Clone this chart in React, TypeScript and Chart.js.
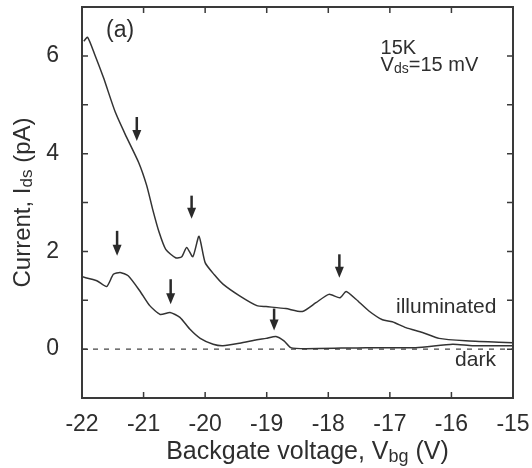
import React, { useEffect, useRef } from "react";
import { Chart, registerables } from "chart.js";

Chart.register(...registerables);

// Data (Backgate voltage V, current pA)
const illumX = [-21.97, -21.91, -21.80, -21.65, -21.46, -21.30, -21.08, -20.95, -20.85, -20.75, -20.64, -20.48, -20.38, -20.30, -20.20, -20.10, -20.00, -19.85, -19.71, -19.44, -19.16, -19.01, -18.69, -18.42, -18.20, -17.99, -17.81, -17.71, -17.55, -17.34, -17.12, -16.96, -16.74, -16.47, -16.20, -15.77, -15.23, -15.0];
const illumY = [6.30, 6.38, 6.05, 5.55, 4.85, 4.40, 3.82, 3.35, 2.85, 2.40, 2.04, 1.87, 1.89, 2.08, 1.89, 2.31, 1.77, 1.52, 1.33, 1.09, 0.89, 0.87, 0.83, 0.77, 0.95, 1.12, 1.05, 1.18, 1.02, 0.78, 0.60, 0.56, 0.44, 0.34, 0.22, 0.17, 0.14, 0.13];

const darkX = [-22.0, -21.76, -21.60, -21.49, -21.38, -21.25, -21.06, -20.90, -20.73, -20.57, -20.41, -20.25, -20.08, -19.87, -19.71, -19.44, -19.16, -19.01, -18.85, -18.72, -18.61, -18.36, -17.39, -16.58, -15.98, -15.66, -15.0];
const darkY = [1.48, 1.40, 1.28, 1.53, 1.57, 1.50, 1.19, 0.89, 0.71, 0.75, 0.65, 0.41, 0.22, 0.10, 0.07, 0.12, 0.19, 0.22, 0.26, 0.17, 0.03, 0.01, 0.03, 0.03, 0.10, 0.07, 0.07];

const zeroX = [-22, -15];
const zeroY = [0, 0];

const arrowX = [-21.11, -20.22, -21.43, -20.56, -18.88, -17.82];
const arrowTop = [4.75, 3.14, 2.42, 1.43, 0.83, 1.94];
const arrowTip = [4.26, 2.67, 1.91, 0.92, 0.38, 1.46];

const xTickValues = [-22, -21, -20, -19, -18, -17, -16, -15];
const yTickValues = [-1, 0, 1, 2, 3, 4, 5, 6, 7];
const yLabelValues = [0, 2, 4, 6];

const FONT = "'Liberation Sans', Arial, Helvetica, sans-serif";
const INK = "#2e2e2e";

const toPts = (xs: number[], ys: number[]) => xs.map((x, i) => ({ x, y: ys[i] }));

type Part = [string, boolean];

function drawRich(ctx: CanvasRenderingContext2D, parts: Part[], x: number, y: number, size: number, align: "left" | "center") {
  const subSize = Math.round(size * 0.7);
  let total = 0;
  const widths = parts.map(([t, sub]) => {
    ctx.font = `${sub ? subSize : size}px ${FONT}`;
    const w = ctx.measureText(t).width;
    total += w;
    return w;
  });
  let cx = align === "center" ? x - total / 2 : x;
  ctx.textBaseline = "middle";
  ctx.textAlign = "left";
  parts.forEach(([t, sub], i) => {
    ctx.font = `${sub ? subSize : size}px ${FONT}`;
    ctx.fillText(t, cx, sub ? y + size * 0.2 : y);
    cx += widths[i];
  });
}

const decorPlugin = {
  id: "decor",
  afterDatasetsDraw(chart: any) {
    const { ctx, chartArea: a, scales } = chart;
    const xs = scales.x;
    const ys = scales.y;
    ctx.save();
    // frame
    ctx.strokeStyle = "#3a3a3a";
    ctx.lineWidth = 2;
    ctx.strokeRect(a.left, a.top, a.right - a.left, a.bottom - a.top);
    // inward ticks
    ctx.lineWidth = 1.5;
    const tl = 6;
    xTickValues.forEach((v) => {
      const px = xs.getPixelForValue(v);
      ctx.beginPath();
      ctx.moveTo(px, a.bottom);
      ctx.lineTo(px, a.bottom - tl);
      ctx.moveTo(px, a.top);
      ctx.lineTo(px, a.top + tl);
      ctx.stroke();
    });
    yTickValues.forEach((v) => {
      const py = ys.getPixelForValue(v);
      ctx.beginPath();
      ctx.moveTo(a.left, py);
      ctx.lineTo(a.left + tl, py);
      ctx.moveTo(a.right, py);
      ctx.lineTo(a.right - tl, py);
      ctx.stroke();
    });
    // arrows
    ctx.fillStyle = "#2a2a2a";
    ctx.strokeStyle = "#2a2a2a";
    arrowX.forEach((v, i) => {
      const px = xs.getPixelForValue(v);
      const pt = ys.getPixelForValue(arrowTop[i]);
      const pb = ys.getPixelForValue(arrowTip[i]);
      ctx.lineWidth = 2.5;
      ctx.beginPath();
      ctx.moveTo(px, pt);
      ctx.lineTo(px, pb - 6);
      ctx.stroke();
      ctx.beginPath();
      ctx.moveTo(px - 4.5, pb - 11);
      ctx.lineTo(px + 4.5, pb - 11);
      ctx.lineTo(px, pb);
      ctx.closePath();
      ctx.fill();
    });
    // annotations
    ctx.fillStyle = INK;
    drawRich(ctx, [["(a)", false]], xs.getPixelForValue(-21.61), ys.getPixelForValue(6.52), 23, "left");
    drawRich(ctx, [["15K", false]], xs.getPixelForValue(-17.15), ys.getPixelForValue(6.16), 20, "left");
    drawRich(ctx, [["V", false], ["ds", true], ["=15 mV", false]], xs.getPixelForValue(-17.15), ys.getPixelForValue(5.81), 20, "left");
    drawRich(ctx, [["illuminated", false]], xs.getPixelForValue(-16.9), ys.getPixelForValue(0.85), 21, "left");
    drawRich(ctx, [["dark", false]], xs.getPixelForValue(-15.94), ys.getPixelForValue(-0.23), 21, "left");
    // axis titles
    drawRich(ctx, [["Backgate voltage, V", false], ["bg", true], [" (V)", false]], (a.left + a.right) / 2 + 10, 452, 25, "center");
    ctx.translate(23, (a.top + a.bottom) / 2);
    ctx.rotate(-Math.PI / 2);
    drawRich(ctx, [["Current, I", false], ["ds", true], [" (pA)", false]], 0, 0, 24, "center");
    ctx.restore();
  },
};

export default function App() {
  const ref = useRef<HTMLCanvasElement | null>(null);
  useEffect(() => {
    if (!ref.current) return;
    const line = { showLine: true, pointRadius: 0, borderColor: "#333", borderWidth: 1.5, tension: 0.2, fill: false };
    const chart = new Chart(ref.current, {
      type: "scatter",
      data: {
        datasets: [
          { label: "illuminated", data: toPts(illumX, illumY), ...line },
          { label: "dark", data: toPts(darkX, darkY), ...line },
          { label: "zero", data: toPts(zeroX, zeroY), showLine: true, pointRadius: 0, borderColor: "#444", borderWidth: 1.3, borderDash: [5, 6], tension: 0 },
        ],
      },
      options: {
        responsive: false,
        animation: false,
        layout: { padding: { left: 0, right: 19, top: 7, bottom: 0 } },
        plugins: { legend: { display: false }, tooltip: { enabled: false } },
        scales: {
          x: {
            type: "linear",
            min: -22,
            max: -15,
            grid: { display: false },
            border: { display: false },
            afterFit: (s: any) => { s.height = 70; s.paddingLeft = 0; s.paddingRight = 0; },
            afterBuildTicks: (s: any) => { s.ticks = xTickValues.map((v) => ({ value: v })); },
            ticks: { padding: 5, color: INK, font: { size: 23, family: FONT }, autoSkip: false, maxRotation: 0, callback: (v: any) => String(v) },
          },
          y: {
            type: "linear",
            min: -1,
            max: 7,
            grid: { display: false },
            border: { display: false },
            afterFit: (s: any) => { s.width = 82; s.paddingTop = 0; s.paddingBottom = 0; },
            afterBuildTicks: (s: any) => { s.ticks = yLabelValues.map((v) => ({ value: v })); },
            ticks: { padding: 15, color: INK, font: { size: 23, family: FONT }, autoSkip: false, callback: (v: any) => String(v) },
          },
        },
      },
      plugins: [decorPlugin],
    } as any);
    return () => chart.destroy();
  }, []);
  return (
    <div style={{ position: "fixed", left: 0, top: 0, width: 532, height: 468, background: "#fff" }}>
      <canvas ref={ref} width={532} height={468} />
    </div>
  );
}
